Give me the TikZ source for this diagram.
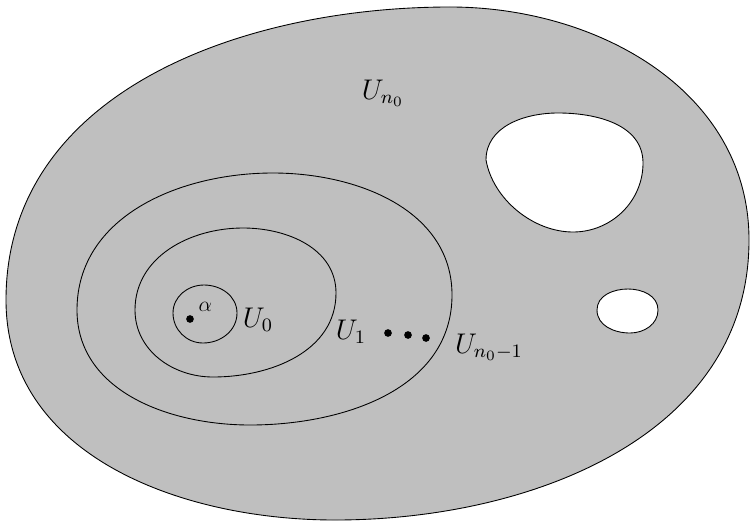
\documentclass[tikz,border=0pt]{standalone}
\usepackage{amsmath,amssymb}
\usepackage{tikz}
\usetikzlibrary{positioning,calc}
\definecolor{regiongray}{RGB}{191,191,191}
\tikzset{region/.style={draw=black, fill=regiongray, thin}, hole/.style={draw=black, fill=white, thin}, level/.style={draw=black, thin}, lbl/.style={inner sep=1pt, scale=1.08}, pt/.style={circle, fill=black, inner sep=0pt, minimum size=3.5pt}}

\begin{document}
\begin{tikzpicture}[x=0.016cm,y=0.016cm,font=\large]
\useasboundingbox (0,0) rectangle (750,522);
% outer domain U_{n_0} with two holes
\draw[region] (6,222) to[out=90,in=180] (450,515) to[out=0,in=90] (749,282) to[out=-90,in=0] (335,2) to[out=180,in=-90] cycle;
\draw[hole] (486,362) to[out=90,in=180] (558,409) to[out=0,in=90] (643,359) to[out=-90,in=0] (573,290) to[out=180,in=-80,looseness=0.9] cycle;
\draw[hole] (597,212) to[out=90,in=180] (628,233) to[out=0,in=90] (658,212) to[out=-90,in=0] (630,189) to[out=180,in=-90] cycle;
% nested sets U_0, U_1, U_{n_0-1}
\draw[level] (173,209) to[out=90,in=180] (204,237) to[out=0,in=90] (237,209) to[out=-90,in=0] (203,179) to[out=180,in=-90] cycle;
\draw[level] (135,212) to[out=90,in=180] (243,294) to[out=0,in=90] (336,229) to[out=-90,in=0] (213,145) to[out=180,in=-90] cycle;
\draw[level] (77,212) to[out=90,in=180] (273,349) to[out=0,in=90] (452,227) to[out=-90,in=0] (250,97) to[out=180,in=-90] cycle;
\node[pt] (alphapt) at (190,203) {};
\node[lbl,right=1pt of alphapt,yshift=5pt,scale=0.75] (alpha) {$\alpha$};
\node[lbl] (u0) at (258,202) {$U_0$};
\node[lbl] (u1) at (351,190) {$U_1$};
\node[pt] (d1) at (388,189) {};
\node[pt] (d2) at (408,187) {};
\node[pt] (d3) at (426,184) {};
\node[lbl] (un1) at (489,175) {$U_{n_0-1}$};
\node[lbl] (un) at (383,429) {$U_{n_0}$};
\end{tikzpicture}
\end{document}
